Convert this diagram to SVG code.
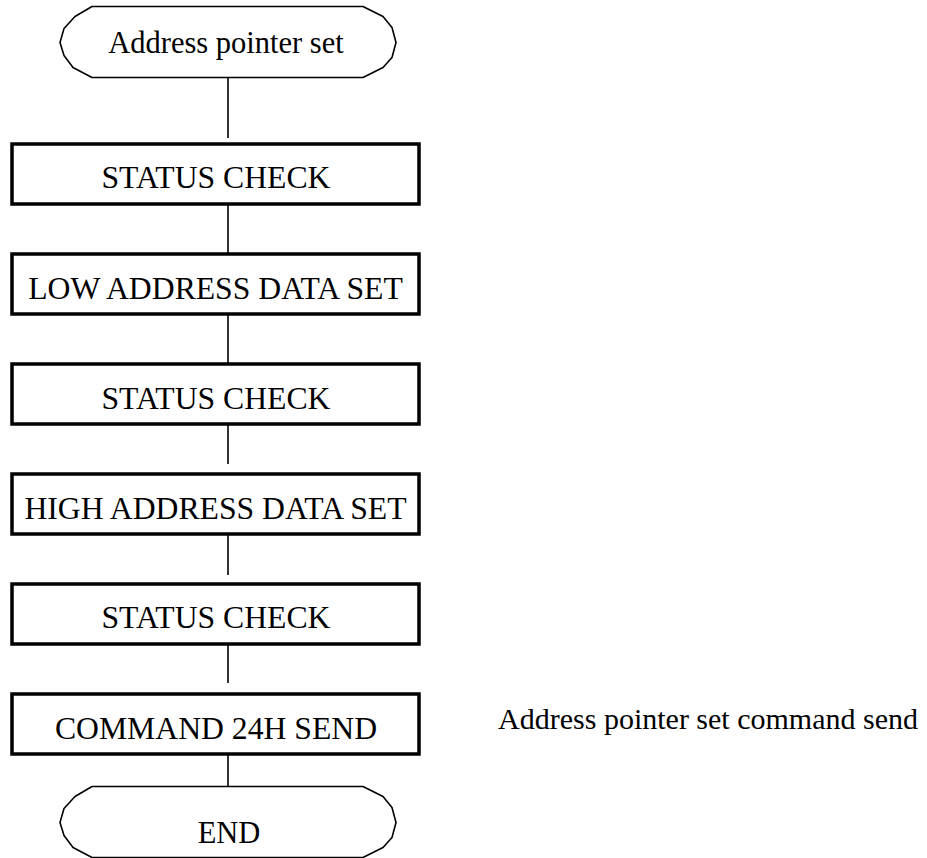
<svg xmlns="http://www.w3.org/2000/svg" width="927" height="858" viewBox="0 0 927 858">
<style>
text{font-family:"Liberation Serif","Times New Roman",serif;fill:#000;text-anchor:middle}
.t{font-size:30.5px}
.n{font-size:30px}
.b{font-size:31.7px}
.box{fill:#fff;stroke:#000;stroke-width:3.5}
.term{fill:#fff;stroke:#000;stroke-width:1.6;stroke-linejoin:round}
.conn{stroke:#000;stroke-width:1.6;fill:none}
</style>
<defs>
<path id="termShape" d="M92,0 L363,0 L383,10 L392,21 L396,36 L392,51 L383,61 L363,71 L92,71 L73,61 L64,49 L60,36 L64,22 L75,10 Z"/>
</defs>
<rect width="927" height="858" fill="#fff"/>
<g id="connectors">
<line class="conn" x1="228" y1="78" x2="228" y2="138"/>
<line class="conn" x1="228" y1="204" x2="228" y2="253"/>
<line class="conn" x1="228" y1="314" x2="228" y2="363"/>
<line class="conn" x1="228" y1="416" x2="228" y2="464"/>
<line class="conn" x1="228" y1="527" x2="228" y2="575"/>
<line class="conn" x1="228" y1="637" x2="228" y2="683"/>
<line class="conn" x1="228" y1="738" x2="228" y2="786"/>
</g>
<g id="start">
<use href="#termShape" class="term" transform="translate(0,6.5)"/>
<text class="t" x="226" y="53">Address pointer set</text>
</g>
<g id="status1">
<rect class="box" x="12" y="144" width="407" height="60"/>
<text class="b" x="216" y="188">STATUS CHECK</text>
</g>
<g id="lowaddr">
<rect class="box" x="12" y="254" width="407" height="60"/>
<text class="b" x="215.5" y="299">LOW ADDRESS DATA SET</text>
</g>
<g id="status2">
<rect class="box" x="12" y="364" width="407" height="60"/>
<text class="b" x="216" y="409">STATUS CHECK</text>
</g>
<g id="highaddr">
<rect class="box" x="12" y="474" width="407" height="60"/>
<text class="b" x="215.5" y="519">HIGH ADDRESS DATA SET</text>
</g>
<g id="status3">
<rect class="box" x="12" y="584" width="407" height="60"/>
<text class="b" x="216" y="628">STATUS CHECK</text>
</g>
<g id="command">
<rect class="box" x="12" y="694" width="407" height="60"/>
<text class="b" x="216" y="739">COMMAND 24H SEND</text>
</g>
<g id="end">
<use href="#termShape" class="term" transform="translate(0,786.5)"/>
<text class="t" x="229" y="843">END</text>
</g>
<g id="note">
<text class="n" x="918" y="729" style="text-anchor:end">Address pointer set command send</text>
</g>
</svg>
